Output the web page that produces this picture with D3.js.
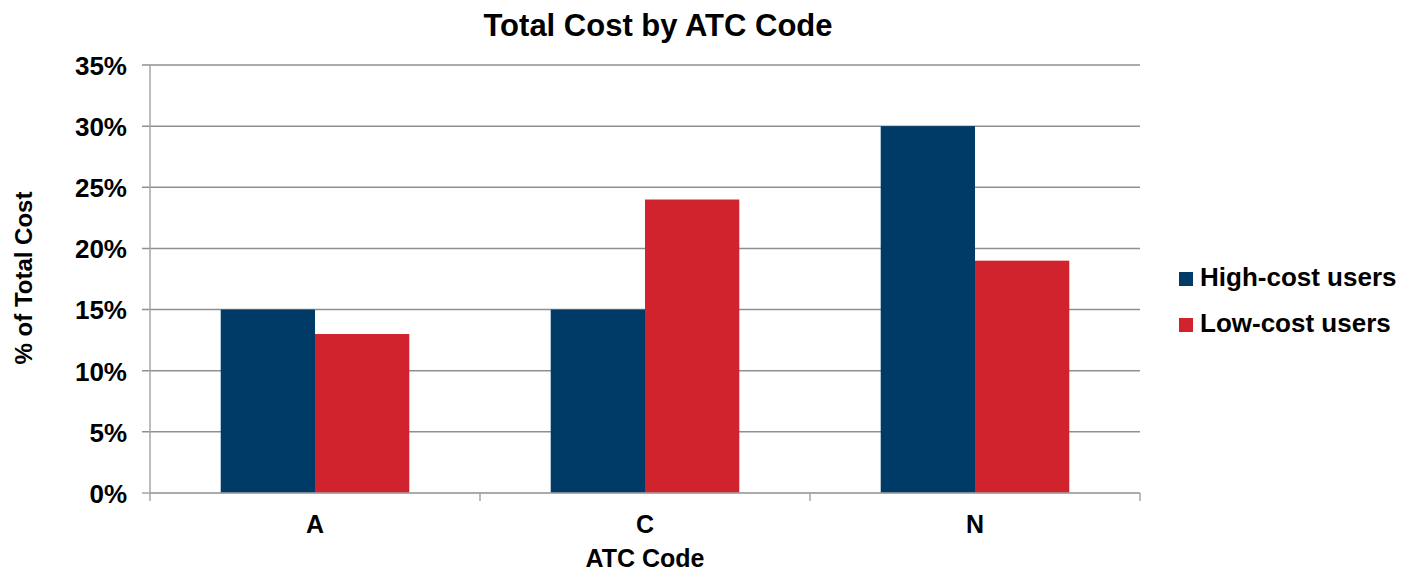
<!DOCTYPE html>
<html>
<head>
<meta charset="utf-8">
<script src="https://cdn.jsdelivr.net/npm/d3@7"></script>
<style>
  html, body { margin: 0; padding: 0; background: #fff; }
  svg { display: block; font-family: "Liberation Sans", Arial, Helvetica, sans-serif; font-weight: bold; }
</style>
</head>
<body>
<svg id="chart" width="1402" height="574"></svg>
<script>
// ATC codes and the share of total cost for each user group
const categories = ["A", "C", "N"];
const seriesNames = ["High-cost users", "Low-cost users"];
const highCost = [0.15, 0.15, 0.30];
const lowCost = [0.13, 0.24, 0.19];
const yTicks = [0, 0.05, 0.10, 0.15, 0.20, 0.25, 0.30, 0.35];
const colors = ["#003b68", "#d0232e"];

const rows = categories.map((c, i) => ({ cat: c, values: [highCost[i], lowCost[i]] }));

const svg = d3.select("#chart");
const plot = { left: 150, right: 1140, top: 65, bottom: 493 };

const x0 = d3.scaleBand().domain(categories).range([plot.left, plot.right]).padding(0);
const x1 = d3.scaleBand().domain(d3.range(seriesNames.length))
  .range([0, x0.bandwidth()]).paddingInner(0).paddingOuter(0.75);
const y = d3.scaleLinear().domain([0, 0.35]).range([plot.bottom, plot.top]);

// horizontal gridlines with short ticks left of the axis
svg.append("g")
  .selectAll("line")
  .data(yTicks)
  .join("line")
  .attr("x1", plot.left - 8)
  .attr("x2", plot.right)
  .attr("y1", d => y(d))
  .attr("y2", d => y(d))
  .attr("stroke", d => d === 0 ? "#a6a6a6" : "#8f8f8f")
  .attr("stroke-width", 1.5);

// y axis labels
const yAxis = d3.axisLeft(y).tickValues(yTicks).tickFormat(d3.format(".0%")).tickSize(0).tickPadding(23);
const gy = svg.append("g").attr("transform", `translate(${plot.left},0)`).call(yAxis);
gy.select(".domain").remove();
gy.selectAll("text")
  .attr("font-family", "'Liberation Sans', Arial, sans-serif")
  .attr("font-weight", "bold")
  .attr("font-size", 26)
  .attr("fill", "#000")
  .attr("dy", "0.36em");

// bars
svg.append("g")
  .selectAll("g")
  .data(rows)
  .join("g")
  .attr("transform", d => `translate(${x0(d.cat)},0)`)
  .selectAll("rect")
  .data(d => d.values.map((v, k) => ({ k, v })))
  .join("rect")
  .attr("x", d => x1(d.k))
  .attr("width", x1.bandwidth())
  .attr("y", d => y(d.v))
  .attr("height", d => y(0) - y(d.v))
  .attr("fill", d => colors[d.k]);

// y axis line
svg.append("line")
  .attr("x1", plot.left).attr("x2", plot.left)
  .attr("y1", plot.top).attr("y2", plot.bottom)
  .attr("stroke", "#a6a6a6").attr("stroke-width", 1.5);

// x axis line and category boundary ticks
svg.append("line")
  .attr("x1", plot.left).attr("x2", plot.right)
  .attr("y1", plot.bottom).attr("y2", plot.bottom)
  .attr("stroke", "#a6a6a6").attr("stroke-width", 1.5);
const bounds = categories.map(c => x0(c)).concat([plot.right]);
svg.append("g")
  .selectAll("line")
  .data(bounds)
  .join("line")
  .attr("x1", d => d).attr("x2", d => d)
  .attr("y1", plot.bottom).attr("y2", plot.bottom + 8)
  .attr("stroke", "#a6a6a6").attr("stroke-width", 1.5);

// category labels
const xAxis = d3.axisBottom(x0).tickSize(0).tickPadding(0);
const gx = svg.append("g").attr("transform", `translate(0,${plot.bottom})`).call(xAxis);
gx.select(".domain").remove();
gx.selectAll("text")
  .attr("font-family", "'Liberation Sans', Arial, sans-serif")
  .attr("font-weight", "bold")
  .attr("font-size", 25)
  .attr("fill", "#000")
  .attr("dy", null)
  .attr("y", 40);

// title
svg.append("text")
  .attr("x", 658).attr("y", 36)
  .attr("text-anchor", "middle")
  .attr("font-size", 31)
  .text("Total Cost by ATC Code");

// axis titles
svg.append("text")
  .attr("x", 645).attr("y", 567)
  .attr("text-anchor", "middle")
  .attr("font-size", 25)
  .text("ATC Code");

svg.append("text")
  .attr("transform", "translate(32,278) rotate(-90)")
  .attr("text-anchor", "middle")
  .attr("font-size", 24)
  .text("% of Total Cost");

// legend
const legend = svg.append("g")
  .selectAll("g")
  .data(seriesNames)
  .join("g")
  .attr("transform", (d, i) => `translate(1179,${272 + i * 46})`);
legend.append("rect")
  .attr("width", 14).attr("height", 14)
  .attr("fill", (d, i) => colors[i]);
legend.append("text")
  .attr("x", 21).attr("y", 14)
  .attr("font-size", 26)
  .text(d => d);
</script>
</body>
</html>
